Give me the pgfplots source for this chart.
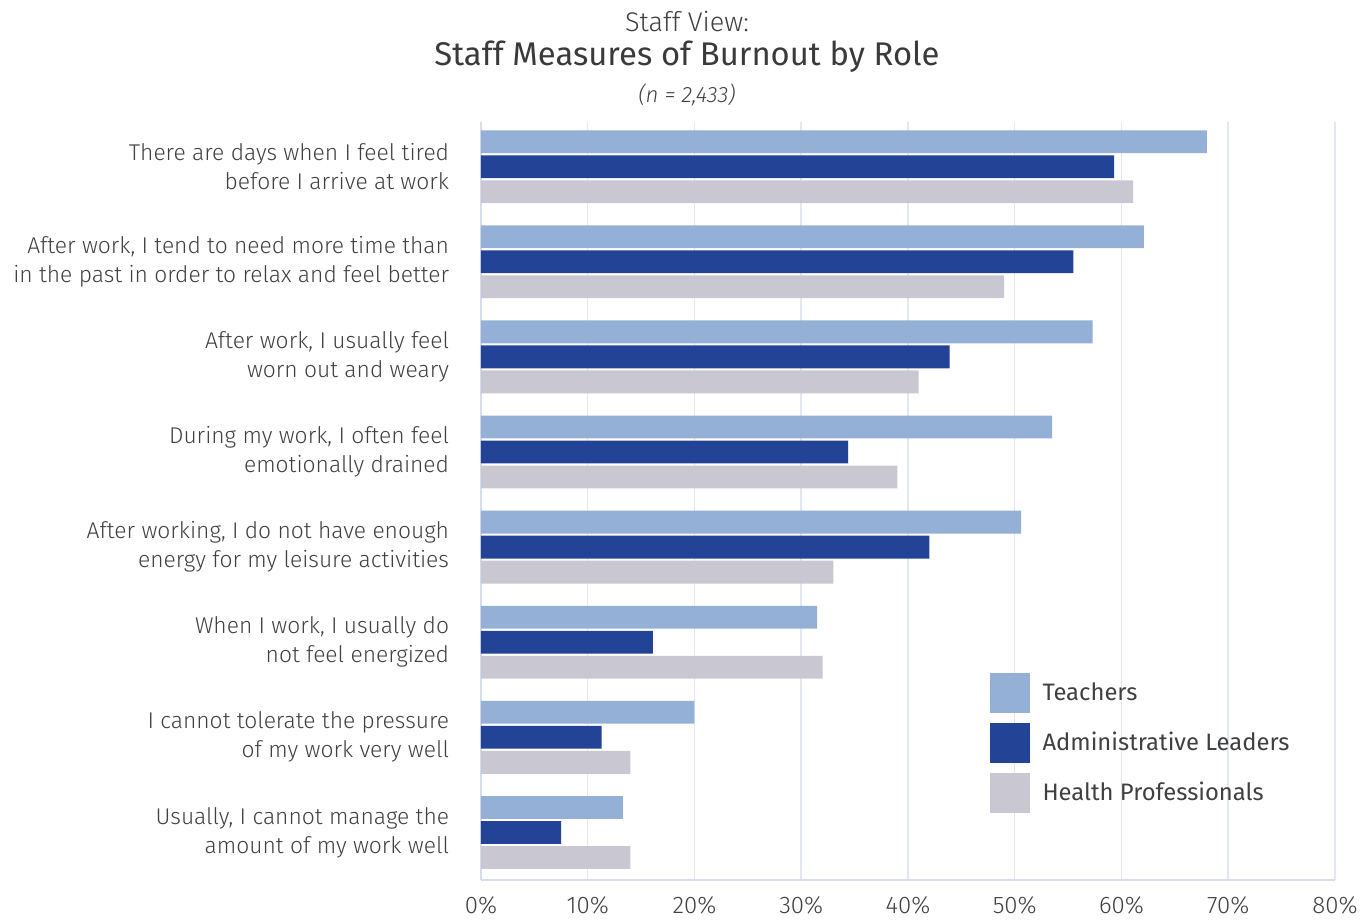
\documentclass[border=0pt]{standalone}
\usepackage{pgfplots}
\pgfplotsset{compat=1.18}
\usepackage{pgfplotstable}
\usepackage{fontspec}
\setmainfont{Fira Sans}[UprightFont=* Light, ItalicFont=* Light Italic, BoldFont=*]
\newfontfamily\titlefont{Fira Sans}
\newfontfamily\legendfont{Fira Sans}
\definecolor{cT}{HTML}{94B0D6}
\definecolor{cA}{HTML}{224396}
\definecolor{cH}{HTML}{C9C8D2}
\definecolor{gridc}{HTML}{E3E7F3}
\definecolor{axc}{HTML}{D5DDEE}
\definecolor{txt}{HTML}{404040}
\pgfplotstableread{
y t a h
0 68.0 59.3 61.1
1 62.1 55.5 49.0
2 57.3 43.9 41.0
3 53.5 34.4 39.0
4 50.6 42.0 33.0
5 31.5 16.1 32.0
6 20.0 11.3 14.0
7 13.3 7.5 14.0
}\data
\begin{document}
\begin{tikzpicture}
\begin{axis}[
  at={(0,0)}, anchor=south west,
  scale only axis, width=427pt, height=379pt,
  xbar, xmin=0, xmax=80, ymin=-0.47, ymax=7.5, y dir=reverse,
  bar width=0.24,
  axis x line*=bottom, axis y line*=left,
  axis line style={axc, line width=0.9pt},
  xtick={0,10,...,80},
  xticklabel={\pgfmathprintnumber{\tick}\%},
  /pgf/number format/assume math mode=true,
  xmajorgrids, grid style={gridc, line width=0.75pt},
  xtick style={draw=none}, ytick style={draw=none},
  xticklabel style={font=\fontsize{12}{14}\selectfont, text=txt, yshift=-5pt},
  ytick={0,...,7},
  yticklabels={{There are days when I feel tired\\before I arrive at work},
    {After work, I tend to need more time than\\in the past in order to relax and feel better},
    {After work, I usually feel\\worn out and weary},
    {During my work, I often feel\\emotionally drained},
    {After working, I do not have enough\\energy for my leisure activities},
    {When I work, I usually do\\not feel energized},
    {I cannot tolerate the pressure\\of my work very well},
    {Usually, I cannot manage the\\amount of my work well}},
  yticklabel style={align=right, font=\fontsize{11.4}{14.5}\selectfont, text=txt, inner sep=0pt, xshift=-11.5pt},
  legend style={at={(0.595,0.274)}, anchor=north west, draw=none, fill=none,
    row sep=5pt, column sep=6.5pt, font=\legendfont\fontsize{11.9}{14}\selectfont, text=txt,
    inner sep=0pt, nodes={inner sep=0pt}},
  legend cell align=left,
  legend image code/.code={\fill[#1] (0pt,-10pt) rectangle (20pt,10pt);},
]
\addplot[fill=cT, draw=none, bar shift=-0.263] table[x=t,y=y] {\data};
\addplot[fill=cA, draw=none, bar shift=0] table[x=a,y=y] {\data};
\addplot[fill=cH, draw=none, bar shift=0.263] table[x=h,y=y] {\data};
\legend{Teachers, Administrative Leaders, Health Professionals}
\end{axis}
\node[font=\fontsize{13.5}{16}\selectfont, text=txt] at (103pt,429pt) {Staff View:};
\node[font=\titlefont\fontsize{16.4}{19}\selectfont, text=txt!90!black] at (103pt,411.5pt) {Staff Measures of Burnout by Role};
\node[font=\itshape\fontsize{11.1}{13}\selectfont, text=txt] at (103pt,392.5pt) {(n = 2,433)};
\pgfresetboundingbox
\useasboundingbox (-240.5pt,-22pt) rectangle (440.5pt,440pt);
\end{tikzpicture}
\end{document}
